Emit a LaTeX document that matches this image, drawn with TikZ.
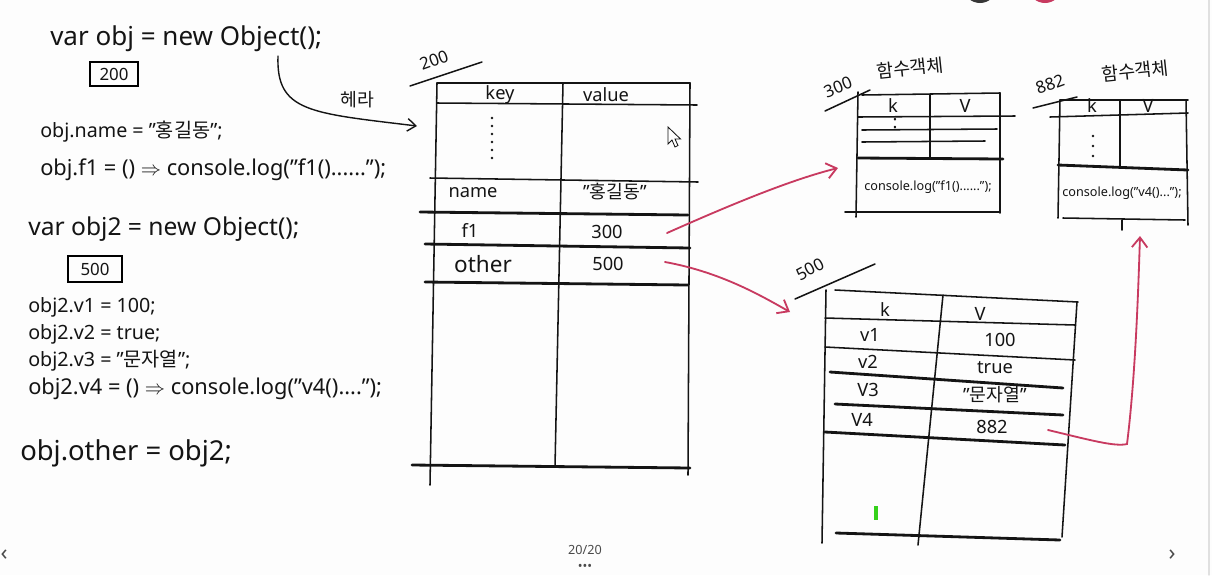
\documentclass[tikz,border=0pt]{standalone}
\usepackage{fontspec}
\setmainfont{Noto Sans}
\newfontfamily\kr{Noto Sans CJK KR}
\usetikzlibrary{arrows.meta}
\definecolor{ink}{HTML}{141414}
\definecolor{marker}{HTML}{C83A60}
\definecolor{slide}{HTML}{FDFDFD}
\definecolor{uigray}{HTML}{4A4A4A}
\definecolor{caret}{HTML}{35D11B}

\begin{document}
\begin{tikzpicture}[x=0.025cm,y=-0.025cm,text=ink,line cap=round,
  code/.style={anchor=base west,inner sep=0pt,font=\fontsize{14}{16}\selectfont},
  cell/.style={inner sep=0pt,font=\fontsize{13}{15}\selectfont},
  tag/.style={inner sep=0pt,font=\fontsize{12}{14}\selectfont},
  rule/.style={ink,line width=1.1pt},
  heavy/.style={ink,line width=2pt},
  link/.style={marker,line width=1.3pt,-{Straight Barb[length=7pt,width=11pt]}}]
  \fill[slide] (0,0) rectangle (1212,575);
  \useasboundingbox (0,0) rectangle (1212,575);

  % code on the left
  \node[code,font=\fontsize{18.5}{20}\selectfont] (l1) at (50,45) {var obj = new Object();};
  \node[draw,line width=1.4pt,minimum width=1.2cm,minimum height=0.6cm,inner sep=0pt,
    font=\fontsize{12}{14}\selectfont] (box200) at (114,74) {200};
  \node[code] (l2) at (40,137) {obj.name = "{\kr 홍길동}";};
  \node[code,font=\fontsize{15.5}{17}\selectfont] (l3) at (40,175)
    {obj.f1 = () $\Rightarrow$ console.log("f1()......");};
  \node[code,font=\fontsize{17.5}{19}\selectfont] (l4) at (28,235) {var obj2 = new Object();};
  \node[draw,line width=1.4pt,minimum width=1.35cm,minimum height=0.65cm,inner sep=0pt,
    font=\fontsize{12}{14}\selectfont] (box500) at (95,269) {500};
  \node[code] (l5) at (28,312) {obj2.v1 = 100;};
  \node[code] (l6) at (28,339) {obj2.v2 = true;};
  \node[code] (l7) at (28,366) {obj2.v3 = "{\kr 문자열}";};
  \node[code,font=\fontsize{15.5}{17}\selectfont] (l8) at (28,394)
    {obj2.v4 = () $\Rightarrow$ console.log("v4()....");};
  \node[code,font=\fontsize{19.5}{21}\selectfont] (l9) at (20,460) {obj.other = obj2;};

  % reference into the heap
  \coordinate (objsrc) at (278,56);
  \coordinate (heapin) at (417,126);
  \draw[ink,line width=1pt,-{Straight Barb[length=6pt,width=9pt]}]
    (objsrc) .. controls (276,112) and (310,113) .. (heapin);
  \node[cell] (heap) at (357,100) {\kr 헤라};

  % object at 200
  \node[tag,rotate=20] (t200) at (434,60) {200};
  \draw[rule] (410,86) -- (482,62);
  \draw[rule] (437,83) -- (690,83);
  \draw[rule] (437,83) -- (430,485);
  \draw[rule] (690,83) -- (688,475);
  \draw[rule] (563,83) -- (555,467);
  \draw[rule] (437,103) -- (697,105);
  \draw[rule] (430,178) -- (698,182);
  \draw[heavy] (420,212) -- (688,215);
  \draw[heavy] (425,244) -- (690,248);
  \draw[heavy] (425,282) -- (688,285);
  \draw[heavy] (412,465) -- (690,468);
  \foreach \y in {118,126,...,158}
    \fill[ink] (492,\y) circle (1.3);
  \node[cell] (hkey) at (500,95) {key};
  \node[cell] (hval) at (606,95) {value};
  \node[cell] (kname) at (473,193) {name};
  \node[cell] (vname) at (615,192) {"{\kr 홍길동}"};
  \node[cell] (kf1) at (470,230) {f1};
  \node[cell] (vf1) at (607,232) {300};
  \node[cell,font=\fontsize{16}{18}\selectfont] (kother) at (483,264) {other};
  \node[cell] (vother) at (608,264) {500};
  % mouse pointer
  \filldraw[fill=white,draw=ink,line width=0.6pt] (668,127) -- ++(0,17) -- ++(4,-4)
    -- ++(3,7) -- ++(3,-1.5) -- ++(-3,-6.5) -- ++(5.5,0) -- cycle;

  % function object at 300
  \node[tag,rotate=22] (t300) at (838,87) {300};
  \node[cell,rotate=6] (fn300) at (910,68) {\kr 함수객체};
  \draw[rule] (825,111) -- (870,90);
  \draw[rule] (862,95) -- (1000,93);
  \draw[rule] (858,92) -- (856,217);
  \draw[rule] (1000,93) -- (1000,213);
  \draw[rule] (930,95) -- (930,158);
  \draw[rule] (858,117) -- (1015,116);
  \draw[rule] (862,130) -- (997,129);
  \draw[rule] (862,142) -- (985,141);
  \draw[heavy] (858,158) -- (1003,159);
  \draw[rule] (845,212) -- (1000,212);
  \node[cell] (k300) at (893,106) {k};
  \node[cell] (v300) at (965,106) {V};
  \node[cell] (d300) at (895,124) {:};
  \node[cell,font=\fontsize{9}{11}\selectfont] (body300) at (928,187)
    {console.log("f1()......");};

  % function object at 882
  \node[tag,rotate=20] (t882) at (1050,84) {882};
  \node[cell,rotate=6] (fn882) at (1135,71) {\kr 함수객체};
  \draw[rule] (1033,108) -- (1077,97);
  \draw[rule] (1060,100) -- (1188,100);
  \draw[rule] (1050,117) -- (1188,113);
  \draw[rule] (1060,100) -- (1058,218);
  \draw[rule] (1120,100) -- (1120,168);
  \draw[rule] (1186,100) -- (1188,225);
  \draw[heavy] (1058,165) -- (1188,170);
  \draw[rule] (1063,218) -- (1185,220);
  \draw[rule] (1122,220) -- (1122,230);
  \foreach \y in {136,146,156}
    \fill[ink] (1093,\y) circle (1.3);
  \node[cell] (k882) at (1092,106) {k};
  \node[cell] (v882) at (1148,106) {V};
  \node[cell,font=\fontsize{9}{11}\selectfont] (body882) at (1122,193)
    {console.log("v4()...");};

  % object at 500
  \node[tag,rotate=28] (t500) at (810,269) {500};
  \draw[rule] (795,299) -- (875,264);
  \draw[rule] (835,290) -- (1078,302);
  \draw[rule] (826,290) -- (822,543);
  \draw[rule] (1077,302) -- (1062,537);
  \draw[rule] (943,295) -- (918,545);
  \draw[rule] (825,318) -- (1075,325);
  \draw[rule] (825,347) -- (1075,360);
  \draw[heavy] (830,372) -- (1063,388);
  \draw[heavy] (835,404) -- (1063,415);
  \draw[heavy] (825,432) -- (1065,445);
  \draw[heavy] (836,533) -- (1060,540);
  \node[cell] (k500) at (885,310) {k};
  \node[cell] (v500) at (980,314) {V};
  \node[cell] (kv1) at (870,335) {v1};
  \node[cell] (vv1) at (1000,340) {100};
  \node[cell] (kv2) at (868,362) {v2};
  \node[cell] (vv2) at (995,368) {true};
  \node[cell] (kv3) at (868,390) {V3};
  \node[cell] (vv3) at (995,395) {"{\kr 문자열}"};
  \node[cell] (kv4) at (862,420) {V4};
  \node[cell] (vv4) at (992,427) {882};
  \draw[caret,line width=2.5pt,line cap=butt] (876,506) -- (876,520);

  % references between objects
  \coordinate (f1out) at (667,233);
  \coordinate (fnin) at (838,168);
  \coordinate (otherout) at (665,262);
  \coordinate (objin) at (790,312);
  \coordinate (v4out) at (1048,430);
  \coordinate (v4bend) at (1127,444);
  \coordinate (fn882in) at (1140,236);
  \draw[link] (f1out) .. controls (730,205) and (790,180) .. (fnin);
  \draw[link] (otherout) .. controls (720,272) and (760,295) .. (objin);
  \draw[link] (v4out) .. controls (1090,440) and (1115,447) .. (v4bend)
    .. controls (1135,380) and (1138,300) .. (fn882in);

  % viewer controls
  \fill[ink!85] (980,-14) circle (17);
  \fill[marker] (1045,-14) circle (17);
  \draw[black!12,line width=1pt] (1209,0) -- (1209,575);
  \node[inner sep=0pt,text=uigray,font=\fontsize{9}{11}\selectfont] (page) at (585,550) {20/20};
  \node[inner sep=0pt,text=uigray,font=\fontsize{9}{11}\selectfont] (more) at (585,567) {•••};
  \node[inner sep=0pt,text=uigray,font=\fontsize{16}{18}\selectfont] (next) at (1172,555) {›};
  \node[inner sep=0pt,text=uigray,font=\fontsize{16}{18}\selectfont] (prev) at (4,555) {‹};
\end{tikzpicture}
\end{document}
